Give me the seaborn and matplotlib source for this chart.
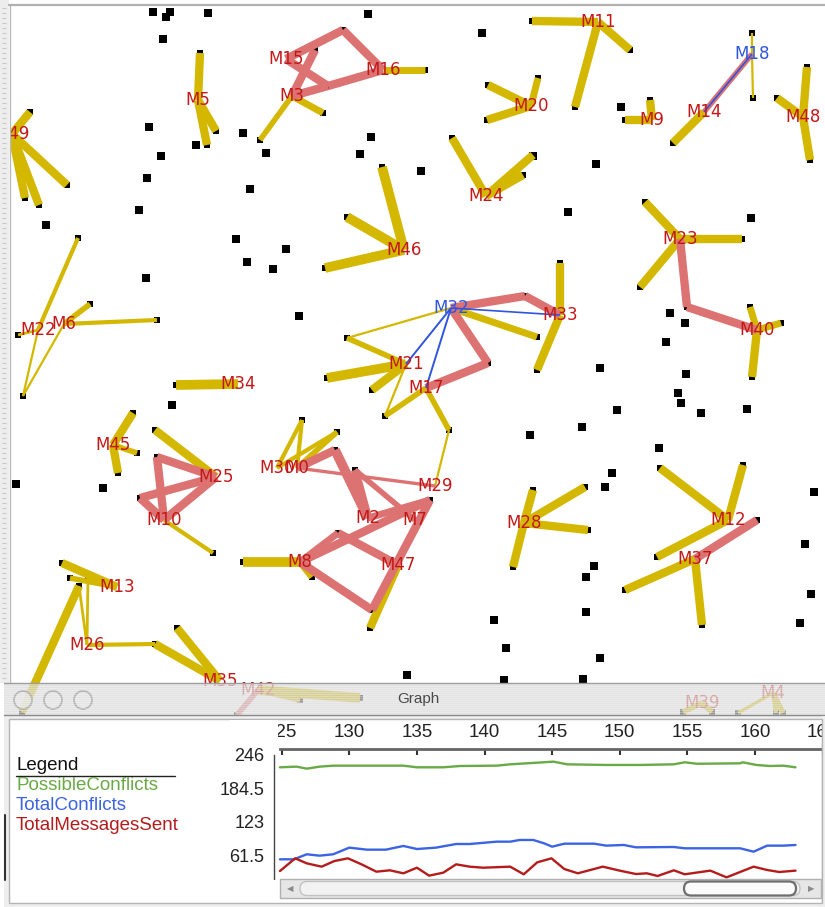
import matplotlib
matplotlib.use("Agg")
import numpy as np
import pandas as pd
import matplotlib.pyplot as plt
import seaborn as sns
from matplotlib.patches import Rectangle, Circle, FancyBboxPatch

# ---- network: agents (labelled) ----
agent_names = ["M15", "M16", "M3", "M5", "M49", "M11", "M18", "M20", "M9", "M14",
               "M48", "M24", "M46", "M23", "M22", "M6", "M32", "M33", "M40", "M34",
               "M21", "M17", "M45", "M25", "M30", "M0", "M29", "M10", "M28", "M2",
               "M7", "M12", "M8", "M47", "M37", "M13", "M26", "M35", "M42", "M39", "M4"]
agent_x = [286, 383, 292, 198, 12, 598, 752, 531, 652, 704,
           803, 486, 404, 680, 38, 64, 451, 560, 757, 238,
           406, 426, 113, 216, 277, 297, 435, 164, 524, 368,
           415, 728, 300, 398, 695, 117, 87, 220, 258, 702, 773]
agent_y = [59, 70, 96, 100, 134, 22, 54, 106, 120, 112,
           117, 196, 250, 239, 330, 324, 308, 315, 330, 384,
           364, 388, 445, 477, 468, 468, 486, 520, 523, 518,
           520, 520, 562, 565, 559, 587, 645, 681, 690, 703, 693]
blue_agents = ["M18", "M32"]

# ---- network: variable nodes (edge ends) ----
var_x = [200, 216, 207, 30, 67, 25, 39, 343, 315, 328,
         425, 260, 323, 532, 630, 575, 752, 753, 673, 625,
         650, 807, 810, 777, 488, 487, 538, 452, 533, 523,
         382, 347, 325, 645, 742, 640, 687, 750, 781, 752,
         525, 537, 488, 347, 560, 537, 327, 372, 385, 449,
         176, 78, 18, 23, 90, 157, 133, 137, 118, 155,
         157, 140, 213, 302, 337, 335, 355, 430, 338, 372,
         243, 312, 370, 533, 585, 588, 513, 660, 743, 657,
         757, 625, 702, 62, 70, 79, 88, 22, 155, 177,
         360, 300, 237, 683, 712, 738, 783, 776]
var_y = [53, 131, 145, 112, 185, 198, 205, 30, 50, 86,
         70, 140, 113, 21, 50, 107, 33, 98, 143, 120,
         100, 67, 160, 98, 85, 120, 78, 138, 155, 175,
         167, 217, 268, 202, 239, 287, 307, 307, 323, 377,
         296, 337, 363, 338, 263, 370, 378, 390, 416, 430,
         385, 238, 335, 396, 304, 320, 413, 453, 473, 430,
         457, 498, 553, 420, 432, 450, 470, 500, 533, 610,
         562, 577, 628, 490, 487, 530, 567, 468, 465, 557,
         520, 590, 625, 563, 578, 586, 578, 712, 644, 628,
         698, 700, 715, 712, 712, 713, 713, 713]

# isolated nodes
free_x = [153, 170, 166, 208, 163, 368, 482, 149, 161, 147, 139, 196, 243, 266, 250,
          46, 236, 286, 247, 273, 146, 299, 371, 360, 421, 596, 621, 533, 568, 751,
          670, 685, 666, 172, 16, 103, 407, 600, 686, 678, 681, 701, 747, 617, 582,
          530, 659, 612, 605, 814, 805, 594, 586, 811, 586, 494, 800, 506, 600, 504, 583]
free_y = [12, 12, 17, 13, 39, 14, 33, 127, 156, 178, 210, 145, 133, 153, 189,
          225, 239, 249, 262, 269, 278, 316, 137, 154, 171, 164, 107, 156, 212, 218,
          313, 323, 342, 405, 484, 488, 675, 368, 374, 393, 403, 413, 409, 410, 427,
          435, 448, 473, 487, 492, 544, 566, 577, 594, 612, 620, 623, 648, 658, 680, 679]

# edges: (node, node, weight)
yellow_edges = [
    ("M5", 0, 3), ("M5", 1, 3), ("M5", 2, 3),
    ("M49", 3, 3), ("M49", 4, 3), ("M49", 5, 3), ("M49", 6, 3),
    ("M16", 10, 2.5), ("M3", 11, 2), ("M3", 12, 2.5),
    ("M11", 13, 3), ("M11", 14, 3), ("M11", 15, 3),
    ("M18", 16, 0.8), ("M18", 17, 0.8), ("M14", 18, 3),
    ("M9", 19, 3), ("M9", 20, 3),
    ("M48", 21, 3), ("M48", 22, 3), ("M48", 23, 3),
    ("M20", 24, 3), ("M20", 25, 3), ("M20", 26, 2.5),
    ("M24", 27, 3), ("M24", 28, 3), ("M24", 29, 3),
    ("M46", 30, 3.5), ("M46", 31, 3.5), ("M46", 32, 3.5),
    ("M23", 33, 3), ("M23", 34, 3), ("M23", 35, 3),
    ("M40", 37, 2.5), ("M40", 38, 2.5), ("M40", 39, 3),
    ("M32", 41, 2.5), ("M32", 43, 0.8), ("M33", 44, 3), ("M33", 45, 3),
    ("M21", 43, 2), ("M21", 46, 3.5), ("M21", 47, 3), ("M21", 48, 0.8),
    ("M17", 48, 2), ("M17", 49, 2), (49, "M29", 0.8),
    ("M34", 50, 3.5),
    ("M22", 51, 1.5), ("M22", 52, 1), ("M22", 53, 0.8), ("M6", 53, 0.8),
    ("M6", 54, 2), ("M6", 55, 1.5),
    ("M45", 56, 3), ("M45", 57, 2), ("M45", 58, 3),
    ("M25", 59, 3), ("M10", 62, 1.5),
    ("M30", 63, 1.5), ("M0", 63, 1.5), ("M30", 64, 1.5), ("M0", 64, 2),
    ("M8", 70, 3.5), ("M8", 71, 2.5), ("M47", 72, 3),
    ("M28", 73, 3), ("M28", 74, 3), ("M28", 75, 3), ("M28", 76, 3),
    ("M12", 77, 3), ("M12", 78, 3), ("M12", 79, 3),
    ("M37", 81, 3), ("M37", 82, 3),
    (83, "M13", 3), (84, "M13", 2), (85, "M26", 1), (86, "M26", 1), (85, 87, 3),
    ("M26", 88, 1.5), (88, "M35", 3), (89, "M35", 3),
    ("M42", 90, 3.5), ("M42", 91, 2), ("M39", 93, 2), ("M39", 94, 2),
    ("M4", 95, 1.2), ("M4", 96, 2), ("M4", 97, 1.5),
]
pink_edges = [
    ("M15", 7, 3), (7, "M16", 3), ("M16", 9, 3), (9, "M3", 3), ("M15", 9, 3), (8, "M3", 3),
    ("M14", "M18", 2), ("M23", 36, 3), (36, "M40", 3),
    ("M32", 40, 3), (40, "M33", 3), ("M32", 42, 3), (42, "M17", 3),
    (60, "M25", 3), (60, "M10", 3), (61, "M25", 3), ("M10", "M25", 3), (61, "M10", 3),
    ("M0", 65, 3), (65, "M2", 3.5), ("M0", "M29", 1.2), (66, "M7", 2), (66, "M2", 3),
    ("M2", 67, 2.5), ("M8", 67, 3), ("M8", 68, 2.5), (68, "M47", 3), ("M8", 69, 3), (69, 67, 3),
    ("M37", 80, 3), ("M42", 92, 2),
]
blue_edges = [("M14", "M18", 0.6), ("M32", "M33", 0.6), ("M32", "M21", 0.7), ("M32", "M17", 0.7)]

# ---- graph window series ----
possible_x = [124.87, 126.1, 126.85, 127.8, 128.8, 131.5, 134.0, 135.0, 136.95, 138.2, 140.9, 141.9, 143.9,
              145.1, 146.1, 149.0, 151.5, 154.0, 154.8, 155.7, 158.9, 159.1, 160.1, 161.1, 162.1, 163.0]
possible_y = [223.4, 224.6, 220.9, 224.6, 226.4, 226.4, 226.4, 223.4, 223.4, 225.8, 226.4, 228.9, 231.9,
              233.8, 228.9, 227.7, 227.7, 228.9, 232.6, 229.9, 230.7, 232.6, 227.7, 225.8, 226.4, 223.4]
conflicts_x = [124.87, 125.9, 126.85, 127.8, 128.8, 130.0, 131.3, 132.7, 134.0, 135.0, 136.4, 137.9, 138.9,
               140.9, 141.9, 142.6, 143.6, 144.4, 145.0, 145.9, 148.1, 149.0, 150.3, 151.2, 154.0, 154.8,
               158.9, 159.9, 160.9, 162.1, 163.0]
conflicts_y = [54.5, 54.5, 63.7, 61.2, 63.7, 75.9, 72.2, 72.2, 79.0, 73.4, 75.9, 82.6, 82.6,
               86.9, 86.9, 90.0, 90.0, 83.9, 77.7, 83.2, 83.2, 79.6, 80.8, 76.5, 77.1, 74.7,
               74.7, 68.5, 79.6, 79.6, 80.8]
messages_x = [124.87, 126.0, 126.85, 127.95, 128.9, 129.9, 130.9, 132.0, 133.0, 134.0, 135.0, 135.9, 136.95,
              137.9, 138.9, 139.9, 141.9, 142.9, 143.9, 144.95, 145.9, 146.9, 148.75, 150.0, 151.2, 152.0,
              152.8, 154.0, 154.8, 156.7, 157.9, 159.9, 160.9, 161.8, 163.0]
messages_y = [33.0, 56.3, 47.1, 41.0, 51.4, 56.3, 45.3, 31.8, 34.3, 28.8, 39.1, 24.5, 30.0,
              45.3, 41.0, 39.1, 41.0, 27.0, 49.0, 56.3, 36.7, 28.8, 41.0, 33.7, 27.5, 28.8,
              23.9, 34.3, 27.0, 33.7, 21.4, 41.0, 34.9, 31.2, 33.7]
series_names = ["PossibleConflicts", "TotalConflicts", "TotalMessagesSent"]
x_ticks = [125, 130, 135, 140, 145, 150, 155, 160, 165]
y_ticks = [0, 61.5, 123, 184.5, 246]
y_tick_labels = ["0", "61.5", "123", "184.5", "246"]

YELLOW = "#d4b800"
PINK = "#dd7272"
BLUE = "#2f55e0"
LABEL_RED = "#c41818"
series_colors = ["#68aa46", "#3b63e2", "#b41c1c"]
UI_FONT = ["Liberation Sans", "DejaVu Sans"]

sns.set_style("white")
plt.rcParams["font.family"] = ["DejaVu Sans"]

W, H = 825, 907
fig = plt.figure(figsize=(W / 100, H / 100), dpi=100)

# ---------------- network panel ----------------
ax_net = fig.add_axes([10 / W, 0, 815 / W, 1 - 5 / H])
pos = {n: (x, y) for n, x, y in zip(agent_names, agent_x, agent_y)}
for i, (x, y) in enumerate(zip(var_x, var_y)):
    pos[i] = (x, y)

sns.scatterplot(x=free_x, y=free_y, marker="s", s=36, color="black", edgecolor="none",
                ax=ax_net, zorder=2)
sns.scatterplot(x=var_x, y=var_y, marker="s", s=22, color="black", edgecolor="none",
                ax=ax_net, zorder=2)


def draw_edges(edges, color, z):
    for a, b, w in edges:
        (x1, y1), (x2, y2) = pos[a], pos[b]
        ax_net.plot([x1, x2], [y1, y2], color=color, lw=w * 2.0,
                    solid_capstyle="butt", zorder=z)


draw_edges(yellow_edges, YELLOW, 3)
draw_edges(pink_edges, PINK, 4)
draw_edges(blue_edges, BLUE, 5)

for n, x, y in zip(agent_names, agent_x, agent_y):
    ax_net.text(x, y, n, ha="center", va="center", fontsize=12,
                color=BLUE if n in blue_agents else LABEL_RED, clip_on=True, zorder=6)

ax_net.set_xlim(10, 825)
ax_net.set_ylim(907, 5)
ax_net.axis("off")

# ---------------- window chrome ----------------
ax_win = fig.add_axes([0, 0, 1, 1], zorder=2)
ax_win.set_xlim(0, W)
ax_win.set_ylim(H, 0)
ax_win.axis("off")

ax_win.add_patch(Rectangle((0, 0), 9, 683, facecolor="#ededed", edgecolor="none"))
ax_win.hlines(np.arange(8, 683, 5), 2, 6, color="#c9c9c9", lw=0.8)
ax_win.plot([9.5, 9.5], [5, 683], color="#b8b8b8", lw=1)
ax_win.plot([9, 825], [5, 5], color="#b0b0b0", lw=1.6)

# title bar (translucent)
ax_win.add_patch(Rectangle((4, 683), 821, 32, facecolor="#d8d8d8", edgecolor="none", alpha=0.7))
ax_win.hlines(np.arange(684, 715, 2), 4, 825, color="white", lw=0.6, alpha=0.35)
ax_win.plot([4, 825], [683, 683], color="#9c9c9c", lw=1)
ax_win.plot([4, 825], [715, 715], color="#8a8a8a", lw=1)
for cx in [23, 53, 83]:
    ax_win.add_patch(Circle((cx, 700), 9, facecolor="#e6e6e6", edgecolor="#a4a4a4",
                            lw=1.3, alpha=0.8))
ax_win.text(418, 699, "Graph", ha="center", va="center", fontsize=11,
            color="#4a4a4a", family=UI_FONT)

# window content
ax_win.add_patch(Rectangle((4, 716), 821, 191, facecolor="#eeeeee", edgecolor="none"))
ax_win.add_patch(Rectangle((9, 719), 813, 184, facecolor="white", edgecolor="#b4b4b4", lw=1))

# legend
ax_win.text(16, 766, "Legend", ha="left", va="center", fontsize=13.5, color="#111111",
            family=UI_FONT)
ax_win.plot([16, 175], [775.5, 775.5], color="#222222", lw=1)
for i, (name, col) in enumerate(zip(series_names, series_colors)):
    ax_win.text(16, 786 + i * 19.5, name, ha="left", va="center", fontsize=13.5,
                color=col, family=UI_FONT)

# ---------------- line chart ----------------
ax_chart = fig.add_axes([274 / W, 1 - 889 / H, 551 / W, 140 / H], zorder=3)
ax_chart.patch.set_alpha(0)
df = pd.concat([
    pd.DataFrame({"step": possible_x, "value": possible_y, "series": series_names[0]}),
    pd.DataFrame({"step": conflicts_x, "value": conflicts_y, "series": series_names[1]}),
    pd.DataFrame({"step": messages_x, "value": messages_y, "series": series_names[2]}),
])
sns.lineplot(data=df, x="step", y="value", hue="series", palette=series_colors,
             estimator=None, legend=False, lw=1.7, ax=ax_chart)
ax_chart.set_xlim(124.43, 165.18)
ax_chart.set_ylim(0, 257)
ax_chart.set_xlabel("")
ax_chart.set_ylabel("")
ax_chart.xaxis.tick_top()
ax_chart.set_xticks(x_ticks)
ax_chart.set_xticklabels([str(t) for t in x_ticks], family=UI_FONT)
ax_chart.set_yticks(y_ticks)
ax_chart.set_yticklabels(y_tick_labels, family=UI_FONT)
ax_chart.tick_params(axis="x", direction="in", length=4, width=1.5, color="#333333",
                     labelsize=13.5, labelcolor="#222222", pad=6)
ax_chart.tick_params(axis="y", direction="in", length=3, width=1, color="#333333",
                     labelsize=13, labelcolor="#222222", pad=7)
for side in ["right", "bottom"]:
    ax_chart.spines[side].set_visible(False)
ax_chart.spines["top"].set_color("#666666")
ax_chart.spines["top"].set_linewidth(2)
ax_chart.spines["top"].set_bounds(124.85, 165.18)
ax_chart.spines["left"].set_color("#444444")
ax_chart.spines["left"].set_linewidth(1)
ax_chart.spines["left"].set_bounds(0, 246)
ax_chart.grid(False)

# ---------------- front overlay: clipping + scrollbar ----------------
ax_front = fig.add_axes([0, 0, 1, 1], zorder=4)
ax_front.set_xlim(0, W)
ax_front.set_ylim(H, 0)
ax_front.axis("off")
ax_front.add_patch(Rectangle((230, 720), 48, 27, facecolor="white", edgecolor="none"))
ax_front.add_patch(Rectangle((200, 880), 78, 22, facecolor="white", edgecolor="none"))
ax_front.add_patch(Rectangle((821.5, 716), 4, 191, facecolor="#eeeeee", edgecolor="none"))
ax_front.plot([821.5, 821.5], [719, 903], color="#b4b4b4", lw=1)

ax_front.add_patch(Rectangle((280, 879), 541, 19, facecolor="#e6e6e6", edgecolor="#b0b0b0", lw=1))
ax_front.add_patch(FancyBboxPatch((300, 881.5), 500, 14, boxstyle="round,pad=0,rounding_size=7",
                                  facecolor="#f2f2f2", edgecolor="#c2c2c2", lw=1))
ax_front.add_patch(FancyBboxPatch((684, 881.5), 112, 14, boxstyle="round,pad=0,rounding_size=7",
                                  facecolor="#fbfbfb", edgecolor="#6e6e6e", lw=1.6))
ax_front.text(290, 888.5, "\u25c0", ha="center", va="center", fontsize=6, color="#8a8a8a")
ax_front.text(811, 888.5, "\u25b6", ha="center", va="center", fontsize=6, color="#8a8a8a")
ax_front.plot([4.5, 4.5], [815, 880], color="#333333", lw=1.5)

fig.savefig("out.png", dpi=100)
